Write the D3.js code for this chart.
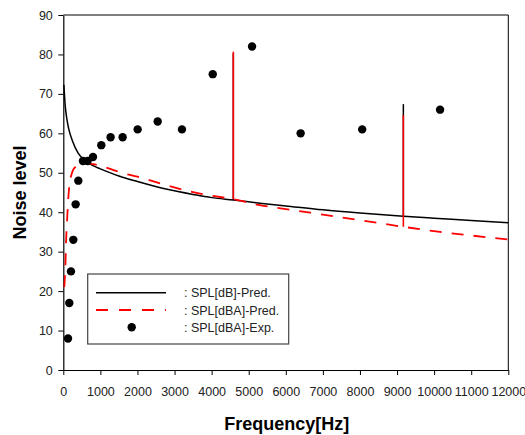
<!DOCTYPE html>
<html>
<head>
<meta charset="utf-8">
<script src="https://cdn.jsdelivr.net/npm/d3@7.9.0/dist/d3.min.js"></script>
<style>
  body { margin: 0; background: #fff; }
  svg { font-family: "Liberation Sans", Arial, sans-serif; }
</style>
</head>
<body>
<svg id="chart" width="525" height="435"></svg>
<script>
// predicted SPL [dB] (black line)
const dbHz    = [15, 50, 100, 150, 250, 400, 600, 800, 1000, 1500, 2000, 2800, 3500, 4000, 4585, 5300, 6000, 7000, 8000, 9170, 10000, 11000, 12000];
const dbLevel = [72.3, 67.2, 63.4, 61, 58, 55, 53, 51.8, 51, 49.2, 47.8, 45.8, 44.5, 43.7, 43.1, 42.3, 41.6, 40.6, 39.8, 39.0, 38.5, 37.9, 37.3];

// predicted SPL [dBA] (red dashed line)
const dbaHz    = [25, 40, 55, 80, 100, 127, 170, 216, 262, 350, 500, 650, 800, 1000, 1200, 1575, 2000, 2830, 3500, 4000, 4585, 5300, 6000, 7000, 8000, 9170, 10000, 11000, 12000];
const dbaLevel = [21, 23, 26.2, 33.8, 37.5, 42.3, 47.5, 49.4, 50.7, 51.6, 52.3, 52.4, 52.2, 51.8, 51.2, 50.0, 49.0, 46.7, 45.1, 44.2, 43.3, 41.8, 40.8, 39.4, 38.0, 36.3, 35.2, 34.1, 33.1];

// narrow peaks in the predictions
const spikeHz   = [4585, 9170];
const spikeDb   = [80.3, 67.4];
const spikeDba  = [80.7, 64.6];

// measured SPL [dBA] (dots)
const expHz    = [127, 162, 207, 270, 333, 405, 530, 655, 800, 1025, 1275, 1600, 2005, 2545, 3200, 4030, 5090, 6400, 8060, 10160];
const expLevel = [8, 17, 25, 33, 42, 48, 53, 53, 54, 57, 59, 59, 61, 63, 61, 75, 82, 60, 61, 66];

const xTicks = [0, 1000, 2000, 3000, 4000, 5000, 6000, 7000, 8000, 9000, 10000, 11000, 12000];
const yTicks = [0, 10, 20, 30, 40, 50, 60, 70, 80, 90];
const legendLabels = [": SPL[dB]-Pred.", ": SPL[dBA]-Pred.", ": SPL[dBA]-Exp."];

const svg = d3.select("#chart");
const plotLeft = 63.3, plotRight = 508.3, plotTop = 15, plotBottom = 370;

const x = d3.scaleLinear().domain([0, 12000]).range([plotLeft, plotRight]);
const y = d3.scaleLinear().domain([0, 90]).range([plotBottom, plotTop]);

// frame (top + right)
svg.append("path")
    .attr("d", `M${plotLeft},${plotTop}H${plotRight}V${plotBottom}`)
    .attr("fill", "none")
    .attr("stroke", "#000")
    .attr("stroke-width", 1);

const xAxis = svg.append("g")
    .attr("transform", `translate(0,${plotBottom})`)
    .call(d3.axisBottom(x).tickValues(xTicks).tickSize(5).tickSizeOuter(0).tickPadding(12).tickFormat(d3.format("d")));

const yAxis = svg.append("g")
    .attr("transform", `translate(${plotLeft},0)`)
    .call(d3.axisLeft(y).tickValues(yTicks).tickSize(5).tickSizeOuter(0).tickPadding(5.5));

[xAxis, yAxis].forEach(g => {
    g.selectAll("text").attr("font-size", 12.5).attr("fill", "#222").attr("font-family", "Liberation Sans, Arial, sans-serif");
    g.select(".domain").attr("stroke-width", 1.2);
});
xAxis.selectAll("text").attr("dy", null).attr("y", 26);

// axis titles
svg.append("text")
    .attr("x", (plotLeft + plotRight) / 2 + 1)
    .attr("y", 430)
    .attr("text-anchor", "middle")
    .attr("font-size", 18)
    .attr("font-weight", "bold")
    .text("Frequency[Hz]");

svg.append("text")
    .attr("transform", "translate(25.5,192.5) rotate(-90)")
    .attr("text-anchor", "middle")
    .attr("font-size", 18)
    .attr("font-weight", "bold")
    .text("Noise level");

const line = d3.line()
    .x(d => x(d[0]))
    .y(d => y(d[1]))
    .curve(d3.curveMonotoneX);

const dbData = dbHz.map((f, i) => [f, dbLevel[i]]);
const dbaData = dbaHz.map((f, i) => [f, dbaLevel[i]]);

svg.append("path")
    .attr("d", line(dbData))
    .attr("fill", "none")
    .attr("stroke", "#000")
    .attr("stroke-width", 1.5);

// black peaks
spikeHz.forEach((f, i) => {
    const base = dbLevel[dbHz.indexOf(f)];
    svg.append("line")
        .attr("x1", x(f)).attr("x2", x(f))
        .attr("y1", y(base)).attr("y2", y(spikeDb[i]))
        .attr("stroke", "#000")
        .attr("stroke-width", 1.5);
});

svg.append("path")
    .attr("d", line(dbaData))
    .attr("fill", "none")
    .attr("stroke", "#ff0000")
    .attr("stroke-width", 1.8)
    .attr("stroke-dasharray", "12,10");

// red peaks
spikeHz.forEach((f, i) => {
    const base = dbaLevel[dbaHz.indexOf(f)];
    svg.append("line")
        .attr("x1", x(f)).attr("x2", x(f))
        .attr("y1", y(base)).attr("y2", y(spikeDba[i]))
        .attr("stroke", "#ff0000")
        .attr("stroke-width", 1.6);
});

// measured points
svg.append("g")
    .selectAll("circle")
    .data(expHz.map((f, i) => [f, expLevel[i]]))
    .join("circle")
    .attr("cx", d => x(d[0]))
    .attr("cy", d => y(d[1]))
    .attr("r", 4.2)
    .attr("fill", "#000");

// legend
const legend = svg.append("g");
legend.append("rect")
    .attr("x", 87.7).attr("y", 274)
    .attr("width", 201).attr("height", 70)
    .attr("fill", "#fff")
    .attr("stroke", "#444")
    .attr("stroke-width", 1.2);

const rowY = [292.7, 310, 327.3];
legend.append("line")
    .attr("x1", 96).attr("x2", 166).attr("y1", rowY[0]).attr("y2", rowY[0])
    .attr("stroke", "#000").attr("stroke-width", 1.5);
legend.append("line")
    .attr("x1", 96).attr("x2", 166).attr("y1", rowY[1]).attr("y2", rowY[1])
    .attr("stroke", "#ff0000").attr("stroke-width", 1.8)
    .attr("stroke-dasharray", "12,11");
legend.append("circle")
    .attr("cx", 131.7).attr("cy", rowY[2]).attr("r", 4.2).attr("fill", "#000");

legend.selectAll("text.lab")
    .data(legendLabels)
    .join("text")
    .attr("class", "lab")
    .attr("x", 184)
    .attr("y", (d, i) => rowY[i])
    .attr("dy", "0.36em")
    .attr("font-size", 12.5)
    .attr("fill", "#222")
    .text(d => d);
</script>
</body>
</html>
